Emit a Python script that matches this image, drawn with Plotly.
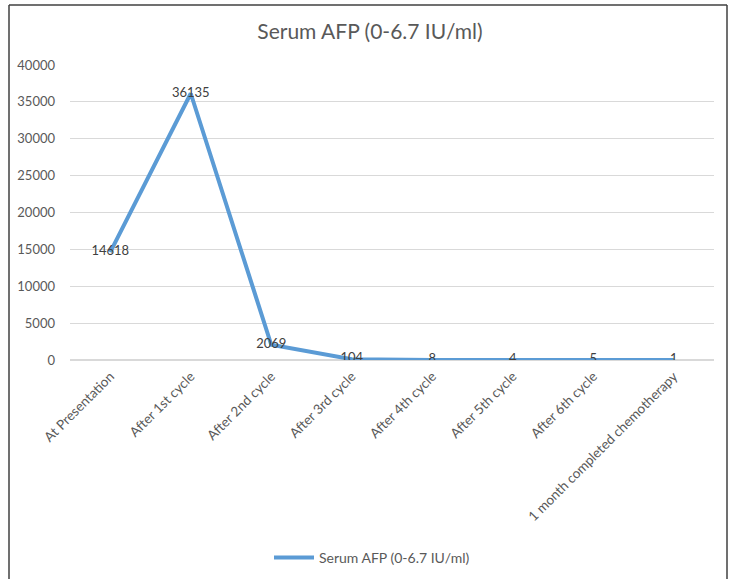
import plotly.graph_objects as go

categories = ["At Presentation", "After 1st cycle", "After 2nd cycle", "After 3rd cycle",
              "After 4th cycle", "After 5th cycle", "After 6th cycle",
              "1 month completed chemotherapy"]
afp_values = [14618, 36135, 2069, 104, 8, 4, 5, 1]
series_name = "Serum AFP (0-6.7 IU/ml)"
y_ticks = [0, 5000, 10000, 15000, 20000, 25000, 30000, 35000, 40000]
y_tick_labels = [str(v) for v in y_ticks]

FONT = "Lato, Open Sans, sans-serif"
W, H = 734, 579
L, R, T, B = 70, 20, 65, 219
pw, ph = W - L - R, H - T - B

def px_x(x):
    return (x - L) / pw

def px_y(y):
    return (H - B - y) / ph

fig = go.Figure()
fig.add_trace(go.Scatter(
    x=categories, y=afp_values, mode="lines+text", name=series_name,
    text=[str(v) for v in afp_values], textposition="middle center",
    textfont=dict(family=FONT, size=13, color="#404040"),
    line=dict(color="#5B9BD5", width=4),
))

border = dict(color="#404040", width=1.5)
fig.update_layout(
    width=W, height=H,
    margin=dict(l=L, r=R, t=T, b=B, autoexpand=False),
    paper_bgcolor="white", plot_bgcolor="white",
    title=dict(text="Serum AFP (0-6.7 IU/ml)", xref="container", x=370 / W, xanchor="center",
               yref="container", y=1 - 32 / H, yanchor="middle",
               font=dict(family=FONT, size=21, color="#595959")),
    font=dict(family=FONT, color="#595959"),
    showlegend=True,
    legend=dict(orientation="h", x=px_x(372), xanchor="center",
                yref="container", y=1 - 558 / H, yanchor="middle",
                font=dict(family=FONT, size=14, color="#595959"), itemwidth=40,
                bgcolor="rgba(0,0,0,0)"),
    xaxis=dict(type="category", tickangle=-45, showgrid=False, showline=False,
               automargin=False,
               ticks="", tickfont=dict(family=FONT, size=13.5, color="#595959"),
               ticklabelstandoff=5, range=[-0.5, 7.5]),
    yaxis=dict(range=[0, 40000], tickvals=y_ticks, ticktext=y_tick_labels,
               automargin=False,
               showgrid=True, gridcolor="#D9D9D9",
               gridwidth=1, zeroline=True, zerolinecolor="#D9D9D9", showline=False,
               ticks="", tickfont=dict(family=FONT, size=13, color="#595959"),
               ticklabelstandoff=14),
    shapes=[
        dict(type="line", xref="paper", yref="paper", x0=px_x(9), x1=px_x(9),
             y0=px_y(600), y1=px_y(5), line=border, layer="below"),
        dict(type="line", xref="paper", yref="paper", x0=px_x(727), x1=px_x(727),
             y0=px_y(600), y1=px_y(5), line=border, layer="below"),
        dict(type="line", xref="paper", yref="paper", x0=px_x(9), x1=px_x(727),
             y0=px_y(5), y1=px_y(5), line=border, layer="below"),
    ],
)

post = ("var s=document.body.style;s.margin='0';s.padding='0';s.overflow='hidden';"
        "var d=document.documentElement.style;d.overflow='hidden';")
fig.write_html("out.html", config={"displayModeBar": False}, post_script=post)
